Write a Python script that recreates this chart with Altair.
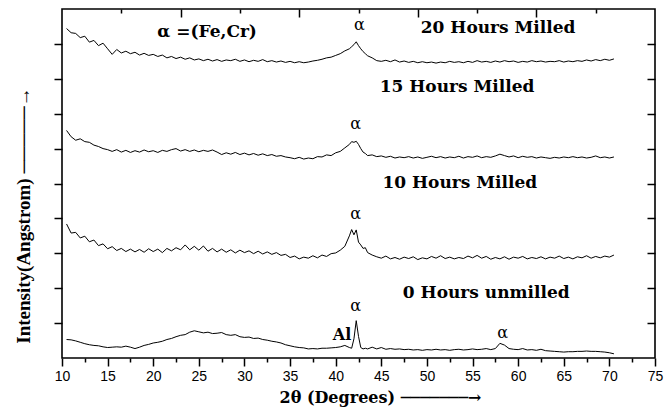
import altair as alt
import pandas as pd

# ---- sample positions (2-theta, degrees) ----
X_GRID = ([10.5 + 0.5 * i for i in range(63)]
          + [41.75 + 0.25 * i for i in range(8)]
          + [44.0 + 0.5 * i for i in range(54)])

Y_0H = [
    .53, .52, .49, .45, .41, .38, .36, .35, .32, .30,
    .31, .32, .31, .34, .31, .27, .31, .36, .39, .43,
    .45, .48, .53, .56, .61, .65, .67, .74, .78, .75,
    .72, .74, .70, .71, .73, .67, .65, .67, .61, .59,
    .60, .56, .57, .53, .51, .48, .46, .43, .38, .35,
    .32, .30, .29, .26, .27, .26, .28, .28, .29, .30,
    .32, .36, .30,
    .28, .55, 1.07, .62, .30, .26, .28, .26,
    .31, .26, .30, .25, .27, .25, .26, .24, .25, .23,
    .24, .22, .24, .23, .25, .23, .24, .22, .24, .25,
    .23, .24, .26, .24, .25, .27, .24, .27, .42, .37,
    .27, .25, .24, .27, .23, .24, .22, .25, .21, .20,
    .19, .18, .17, .18, .18, .19, .19, .20, .19, .19,
    .18, .17, .15, .12,
]

Y_10H = [
    3.84, 3.58, 3.60, 3.44, 3.49, 3.33, 3.38, 3.22, 3.27, 3.13,
    3.19, 3.08, 3.14, 3.05, 3.12, 3.04, 3.11, 3.03, 3.13, 3.05,
    3.12, 3.02, 3.14, 3.07, 3.16, 3.10, 3.24, 3.10, 3.20, 3.09,
    3.21, 3.06, 3.14, 3.04, 3.12, 3.03, 3.10, 3.01, 3.09, 3.02,
    3.07, 2.99, 3.06, 2.98, 3.04, 2.97, 3.02, 2.94, 2.97, 2.88,
    2.92, 2.84, 2.89, 2.86, 2.93, 2.87, 2.95, 2.91, 2.99, 3.01,
    3.09, 3.20, 3.50,
    3.68, 3.53, 3.67, 3.32, 3.24, 3.14, 3.16, 3.02,
    2.95, 2.90, 2.86, 2.92, 2.84, 2.88, 2.83, 2.89, 2.85, 2.90,
    2.82, 2.87, 2.84, 2.91, 2.86, 2.93, 2.85, 2.89, 2.84, 2.88,
    2.85, 2.92, 2.87, 2.94, 2.86, 2.91, 2.83, 2.88, 2.84, 2.90,
    2.83, 2.89, 2.86, 2.91, 2.84, 2.88, 2.85, 2.90, 2.84, 2.89,
    2.86, 2.92, 2.85, 2.89, 2.84, 2.90, 2.87, 2.93, 2.86, 2.91,
    2.87, 2.92, 2.89, 2.95,
]

Y_15H = [
    6.52, 6.34, 6.24, 6.28, 6.20, 6.18, 6.10, 6.06, 6.00, 5.97,
    5.92, 5.97, 5.90, 5.95, 5.89, 5.94, 5.90, 5.96, 5.91, 5.94,
    5.89, 5.95, 5.92, 5.97, 6.00, 5.93, 5.97, 5.92, 5.96, 5.91,
    5.95, 5.92, 5.96, 5.90, 5.83, 5.88, 5.84, 5.89, 5.83, 5.87,
    5.82, 5.86, 5.81, 5.85, 5.80, 5.83, 5.78, 5.80, 5.76, 5.74,
    5.71, 5.75, 5.70, 5.73, 5.71, 5.77, 5.76, 5.82, 5.80, 5.88,
    5.92, 6.02, 6.12,
    6.20, 6.18, 6.21, 6.12, 6.00, 5.90, 5.86, 5.80,
    5.82, 5.77, 5.79, 5.75, 5.78, 5.73, 5.76, 5.74, 5.77, 5.73,
    5.76, 5.72, 5.75, 5.78, 5.74, 5.77, 5.73, 5.76, 5.74, 5.78,
    5.73, 5.77, 5.75, 5.79, 5.74, 5.77, 5.75, 5.79, 5.84, 5.80,
    5.76, 5.79, 5.74, 5.78, 5.75, 5.77, 5.73, 5.76, 5.74, 5.72,
    5.75, 5.73, 5.76, 5.74, 5.77, 5.74, 5.76, 5.73, 5.75, 5.79,
    5.74, 5.76, 5.73, 5.76,
]

Y_20H = [
    9.44, 9.32, 9.30, 9.18, 9.22, 9.05, 9.10, 8.95, 9.02, 8.86,
    8.70, 8.84, 8.74, 8.79, 8.72, 8.76, 8.68, 8.73, 8.67, 8.70,
    8.64, 8.68, 8.60, 8.64, 8.58, 8.62, 8.56, 8.60, 8.54, 8.57,
    8.52, 8.56, 8.51, 8.55, 8.50, 8.54, 8.52, 8.56, 8.50, 8.54,
    8.49, 8.53, 8.50, 8.55, 8.49, 8.52, 8.48, 8.51, 8.47, 8.50,
    8.46, 8.49, 8.46, 8.48, 8.51, 8.53, 8.56, 8.60, 8.62, 8.67,
    8.72, 8.80, 8.86,
    8.92, 8.98, 9.06, 8.95, 8.86, 8.78, 8.72, 8.66,
    8.60, 8.52, 8.50, 8.53, 8.49, 8.54, 8.48, 8.51, 8.47, 8.50,
    8.46, 8.49, 8.46, 8.48, 8.45, 8.48, 8.46, 8.50, 8.47, 8.49,
    8.46, 8.50, 8.47, 8.52, 8.48, 8.50, 8.47, 8.51, 8.48, 8.52,
    8.49, 8.51, 8.47, 8.50, 8.48, 8.52, 8.49, 8.51, 8.48, 8.50,
    8.49, 8.52, 8.48, 8.51, 8.49, 8.52, 8.50, 8.54, 8.51, 8.55,
    8.52, 8.56, 8.53, 8.57,
]

SERIES = ["0 Hours unmilled", "10 Hours Milled", "15 Hours Milled", "20 Hours Milled"]

LABEL_TEXT = ["α =(Fe,Cr)", "20 Hours Milled", "15 Hours Milled",
              "10 Hours Milled", "0 Hours unmilled", "Al"]
LABEL_X = [25.9, 57.8, 53.3, 53.6, 56.5, 40.7]
LABEL_Y = [9.34, 9.46, 7.76, 5.01, 1.86, 0.66]
LABEL_SIZE = [17, 17, 17, 17, 17, 16]

ALPHA_X = [42.6, 42.2, 42.2, 42.2, 58.3]
ALPHA_Y = [9.54, 6.70, 4.13, 1.49, 0.72]

BOTTOM_TICKS = [10 + 2.5 * i for i in range(27)]
Y_TICKS = [1, 2, 3, 4, 5, 6, 7, 8, 9]
TOP_MAJOR = [2, 4, 6, 8]
TOP_MINOR = [1, 3, 5, 7, 9]

rows = []
for name, ys in zip(SERIES, [Y_0H, Y_10H, Y_15H, Y_20H]):
    for xv, yv in zip(X_GRID, ys):
        rows.append({"series": name, "x": xv, "y": yv})
df = pd.DataFrame(rows)

lab_df = pd.DataFrame({"x": LABEL_X, "y": LABEL_Y, "text": LABEL_TEXT, "fs": LABEL_SIZE})
alpha_df = pd.DataFrame({"x": ALPHA_X, "y": ALPHA_Y, "text": ["α"] * len(ALPHA_X)})
frame_df = pd.DataFrame({"t": [0, 10]})

W, H = 593, 349


def xs():
    return alt.Scale(domain=[10, 75], nice=False, zero=False)


def ys():
    return alt.Scale(domain=[0, 10], nice=False, zero=False)


lines = alt.Chart(df).mark_line(color="black", strokeWidth=1).encode(
    x=alt.X("x:Q", scale=xs(), axis=alt.Axis(
        values=BOTTOM_TICKS,
        labelExpr="datum.value % 5 === 0 ? datum.label : ''",
        labelFlush=False, labelOverlap=False,
        tickSize={"condition": {"test": "datum.value % 5 === 0", "value": 8}, "value": 4},
        labelPadding=3,
        title="2θ  (Degrees)  ───────→",
        titleFont="DejaVu Serif", titleFontWeight="bold", titleFontSize=16,
        titleX=318, titleY=39, titleBaseline="middle", titleAlign="center",
    )),
    y=alt.Y("y:Q", scale=ys(), axis=alt.Axis(
        values=Y_TICKS, labels=False, tickSize=8,
        title="Intensity(Angstrom)  ─────→",
        titleFont="Liberation Serif", titleFontWeight="bold", titleFontSize=19,
        titleX=-29, titleY=206, titleAlign="center", titleBaseline="bottom",
    )),
    detail="series:N",
)

labels = alt.Chart(lab_df).mark_text(
    font="DejaVu Serif", fontWeight="bold", color="black", align="center", baseline="middle"
).encode(
    x=alt.X("x:Q", scale=xs(), axis=None),
    y=alt.Y("y:Q", scale=ys(), axis=None),
    text="text:N",
    size=alt.Size("fs:Q", scale=None),
)

alphas = alt.Chart(alpha_df).mark_text(
    font="DejaVu Serif", fontSize=16, color="black", align="center", baseline="middle"
).encode(
    x=alt.X("x:Q", scale=xs(), axis=None),
    y=alt.Y("y:Q", scale=ys(), axis=None),
    text="text:N",
)

top_major = alt.Chart(frame_df).mark_point(opacity=0).encode(
    x=alt.X("t:Q", scale=alt.Scale(domain=[0, 10], nice=False), axis=alt.Axis(
        orient="top", values=TOP_MAJOR, labels=False, title=None,
        tickSize=8, offset=-8)),
)
top_minor = alt.Chart(frame_df).mark_point(opacity=0).encode(
    x=alt.X("t:Q", scale=alt.Scale(domain=[0, 10], nice=False), axis=alt.Axis(
        orient="top", values=TOP_MINOR, labels=False, title=None,
        tickSize=4, offset=-4)),
)
right_ax = alt.Chart(frame_df).mark_point(opacity=0).encode(
    y=alt.Y("t:Q", scale=alt.Scale(domain=[0, 10], nice=False), axis=alt.Axis(
        orient="right", values=Y_TICKS, labels=False, title=None,
        tickSize=8, offset=-8)),
)

chart = alt.layer(lines, labels, alphas, top_major, top_minor, right_ax).resolve_scale(
    x="independent", y="independent"
).properties(
    width=W, height=H,
    padding={"left": 62, "top": 9, "right": 12, "bottom": 50},
    autosize=alt.AutoSizeParams(type="none"),
    background="white",
).configure_view(
    stroke="black", strokeWidth=1.6
).configure_axis(
    domain=False, grid=False, tickColor="black", tickWidth=1.5,
    labelFont="Liberation Sans", labelFontSize=14, labelColor="black",
    titleColor="black",
)

chart.save("out.html", embed_options={"renderer": "svg", "actions": False})
